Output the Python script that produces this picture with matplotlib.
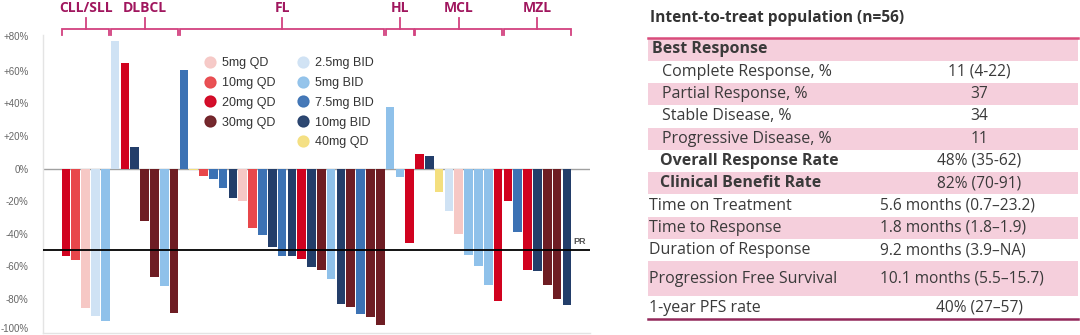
import matplotlib
matplotlib.use('Agg')
import matplotlib.pyplot as plt
from matplotlib.lines import Line2D
from matplotlib.patches import Rectangle
from matplotlib.transforms import blended_transform_factory, ScaledTranslation
from matplotlib import font_manager as fm
import numpy as np

# ---------------- data ----------------
groups = ['CLL/SLL', 'DLBCL', 'FL', 'HL', 'MCL', 'MZL']
group_sizes = [5, 7, 21, 3, 9, 7]

dose_labels = ['5mg QD', '10mg QD', '20mg QD', '30mg QD',
               '2.5mg BID', '5mg BID', '7.5mg BID', '10mg BID', '40mg QD']
dose_colors = ['#F6C8C5', '#E8474B', '#D1021F', '#6E1D23',
               '#CFE2F4', '#8FC1EA', '#3C72B4', '#233E6A', '#F4DF7E']

# dose index per patient (order of dose_labels)
bar_dose = [
    2, 1, 0, 4, 5,                                   # CLL/SLL
    4, 2, 7, 3, 3, 5, 3,                             # DLBCL
    6, 8, 1, 6, 6, 7, 0, 1, 6, 7, 6, 7, 2, 7, 3, 5, 7, 3, 6, 3, 3,  # FL
    5, 5, 2,                                         # HL
    2, 7, 8, 4, 0, 5, 5, 5, 2,                       # MCL
    2, 6, 2, 7, 3, 3, 7,                             # MZL
]
bar_change = [
    -53.8, -55.9, -85.6, -90.3, -93.4,
    78.1, 65.0, 13.0, -32.2, -66.6, -72.4, -88.9,
    60.8, -1.2, -4.7, -6.2, -12.0, -18.4, -20.0, -36.7, -41.0, -48.0, -53.8,
    -53.8, -55.7, -60.6, -62.5, -67.6, -83.1, -85.2, -89.3, -91.4, -96.1,
    37.9, -5.4, -45.8,
    9.1, 7.8, -14.2, -25.8, -40.4, -53.4, -59.8, -71.8, -81.4,
    -20.0, -39.0, -62.5, -63.1, -71.3, -80.0, -83.5,
]

y_ticks = [80, 60, 40, 20, 0, -20, -40, -60, -80, -100]
y_ticklabels = ['+80%', '+60%', '+40%', '+20%', '0%', '-20%', '-40%', '-60%', '-80%', '-100%']
pr_threshold = -50

table_title = 'Intent-to-treat population (n=56)'
row_labels = ['Best Response', 'Complete Response, %', 'Partial Response, %',
              'Stable Disease, %', 'Progressive Disease, %', 'Overall Response Rate',
              'Clinical Benefit Rate', 'Time on Treatment', 'Time to Response',
              'Duration of Response', 'Progression Free Survival', '1-year PFS rate']
row_values = ['', '11 (4-22)', '37', '34', '11', '48% (35-62)', '82% (70-91)',
              '5.6 months (0.7\u201323.2)', '1.8 months (1.8\u20131.9)',
              '9.2 months (3.9\u2013NA)', '10.1 months (5.5\u201315.7)', '40% (27\u201357)']
row_kind = ['head', 'sub', 'sub', 'sub', 'sub', 'bold', 'bold',
            'plain', 'plain', 'plain', 'plain', 'plain']
value_align = ['c', 'c', 'c', 'c', 'c', 'c', 'c', 'l', 'l', 'l', 'l', 'c']


# ---------------- fonts ----------------
def _wnum(w):
    if isinstance(w, (int, float)):
        return w
    return fm.weight_dict.get(w, 400)


def pick_family(cands):
    for fam in cands:
        ws = [_wnum(f.weight) for f in fm.fontManager.ttflist if f.name == fam]
        if ws and max(ws) >= 600 and min(ws) <= 500:
            return fam
    return 'DejaVu Sans'


table_font = pick_family(['Noto Sans', 'Open Sans', 'Lato', 'Roboto', 'Inter'])
label_font = pick_family(['Open Sans', 'Noto Sans', 'Lato', 'Roboto'])

# ---------------- figure ----------------
W, H = 1080, 335
fig = plt.figure(figsize=(W / 100, H / 100), dpi=100)
fig.patch.set_facecolor('white')

ax = fig.add_axes([43 / W, 2 / H, (590 - 43) / W, (333 - 35) / H])
x = np.arange(len(bar_change))
ax.bar(x, bar_change, width=0.88, color=[dose_colors[d] for d in bar_dose],
       linewidth=0, zorder=2)
ax.axhline(0, color='#a0a0a0', lw=1.0, zorder=1)
ax.axhline(pr_threshold, color='black', lw=1.3, zorder=3)
ax.text(52.3, pr_threshold + 2.5, 'PR', fontsize=6.5, fontweight='bold',
        color='#555555', ha='center', va='bottom', family='Liberation Sans')

ax.set_xlim(-2.34, 53.36)
ax.set_ylim(-101, 82)
ax.set_xticks([])
ax.set_yticks(y_ticks)
ax.set_yticklabels(y_ticklabels, fontsize=7.0, color='#666666', family='Liberation Sans')
ax.tick_params(axis='y', length=0, pad=10.5)
# nudge the extreme labels inward a little, as in the source
_lbls = ax.get_yticklabels()
_lbls[0].set_transform(_lbls[0].get_transform() + ScaledTranslation(0, 0.02, fig.dpi_scale_trans))
_lbls[-1].set_transform(_lbls[-1].get_transform() + ScaledTranslation(0, 0.035, fig.dpi_scale_trans))
for s in ['top', 'right']:
    ax.spines[s].set_visible(False)
for s in ['left', 'bottom']:
    ax.spines[s].set_color('#e4e4e4')
    ax.spines[s].set_linewidth(1.0)

# group brackets
tr = blended_transform_factory(ax.transData, fig.transFigure)
y_h = 1 - 29 / H
y_low = 1 - 35 / H
y_top = 1 - 18 / H
y_lab = 1 - 8 / H
start = 0
for g, n in zip(groups, group_sizes):
    x0 = start - 0.42
    x1 = start + n - 1 + 0.42
    xm = (x0 + x1) / 2
    ax.plot([x0, x0, x1, x1], [y_low, y_h, y_h, y_low], color='#D2417F',
            lw=1.3, transform=tr, clip_on=False, solid_joinstyle='miter')
    ax.plot([xm, xm], [y_h, y_top], color='#D2417F', lw=1.3, transform=tr, clip_on=False)
    ax.text(xm, y_lab, g, transform=tr, ha='center', va='center', fontsize=10,
            fontweight='bold', color='#A0165E', family=label_font)
    start += n

# legend (two columns, blank slot to keep 4 QD / 5 BID split)
handles, labels = [], []
order = [0, 1, 2, 3, None, 4, 5, 6, 7, 8]
for i in order:
    if i is None:
        handles.append(Line2D([], [], linestyle='none'))
        labels.append('')
    else:
        handles.append(Line2D([], [], linestyle='none', marker='o', markersize=7.8,
                              markerfacecolor=dose_colors[i],
                              markeredgecolor=dose_colors[i], alpha=0.95))
        labels.append(dose_labels[i])
leg = ax.legend(handles, labels, ncol=2, loc='upper left',
                bbox_to_anchor=(203.5 / W, 1 - 57 / H), bbox_transform=fig.transFigure,
                frameon=False, prop={'family': 'Liberation Sans', 'size': 9},
                handlelength=1.0, handletextpad=0.45, columnspacing=1.75,
                labelspacing=0.63, borderpad=0, borderaxespad=0)
for t in leg.get_texts():
    t.set_color('#333333')

# ---------------- table ----------------
tab = fig.add_axes([0, 0, 1, 1])
tab.set_xlim(0, W)
tab.set_ylim(H, 0)
tab.axis('off')
tab.patch.set_alpha(0)

tab.text(650, 18, table_title, fontsize=11.2, fontweight='bold', color='#333333',
         family=table_font, va='center', ha='left')

row_h = [22.3] * 10 + [35, 22.6]
tx0, tx1 = 648, 1078
y = 38.3
pink = '#F5CFDC'
fs_lab = 11.5
fs_val = 11.2
for i, (lab, val, kind, al, h) in enumerate(zip(row_labels, row_values, row_kind,
                                                 value_align, row_h)):
    if i % 2 == 0:
        tab.add_patch(Rectangle((tx0, y), tx1 - tx0, h, facecolor=pink,
                                edgecolor='none', zorder=1))
    yc = y + h / 2
    if kind == 'head':
        lx, fw = 651.5, 'bold'
    elif kind == 'sub':
        lx, fw = 662.5, 'normal'
    elif kind == 'bold':
        lx, fw = 660, 'bold'
    else:
        lx, fw = 649, 'normal'
    tab.text(lx, yc, lab, fontsize=fs_lab, fontweight=fw, color='#3a3a3a',
             family=table_font, va='center', ha='left', zorder=3)
    if val:
        if al == 'c':
            tab.text(979, yc, val, fontsize=fs_val, color='#3a3a3a', family=table_font,
                     va='center', ha='center', zorder=3)
        else:
            tab.text(880.5, yc, val, fontsize=fs_val, color='#3a3a3a', family=table_font,
                     va='center', ha='left', zorder=3)
    y += h

tab.plot([tx0, tx1], [37.8, 37.8], color='#D94C7C', lw=1.8, zorder=4)
tab.plot([tx0, tx1], [y, y], color='#93285A', lw=1.8, zorder=4)

fig.savefig('out.png', dpi=100, facecolor='white')
